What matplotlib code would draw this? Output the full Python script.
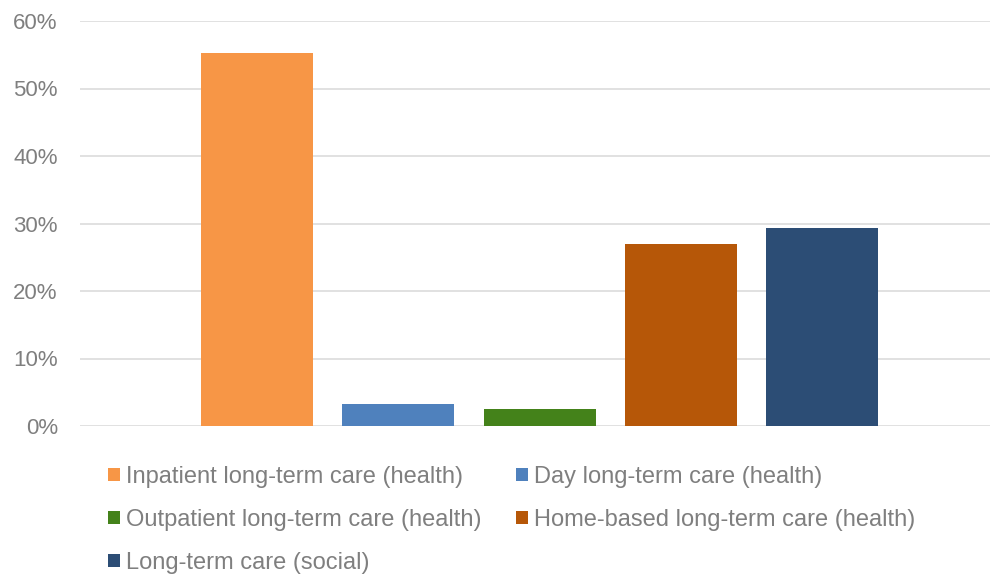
import matplotlib.pyplot as plt
from matplotlib.ticker import FuncFormatter

# Share of long-term care spending by type (%)
series = [
    'Inpatient long-term care (health)',
    'Day long-term care (health)',
    'Outpatient long-term care (health)',
    'Home-based long-term care (health)',
    'Long-term care (social)',
]
values = [55.3, 3.3, 2.5, 27.0, 29.4]
colors = ['#F79646', '#4F81BD', '#44821A', '#B65708', '#2C4D75']

plt.rcParams['font.family'] = ['Liberation Sans', 'DejaVu Sans']

fig = plt.figure(figsize=(9.92, 5.76), dpi=100)
ax = fig.add_axes([80 / 992, 1 - 426 / 576, 910 / 992, 405 / 576])

bars = []
for i, (name, val, col) in enumerate(zip(series, values, colors)):
    bars.append(ax.bar(i, val, width=0.794, color=col, label=name, zorder=2))

ax.set_ylim(0, 60)
ax.set_xlim(-1.255, 5.19)
ax.set_yticks(range(0, 61, 10))
ax.yaxis.set_major_formatter(FuncFormatter(lambda v, p: f'{v:.0f}%'))
ax.set_xticks([])
ax.grid(axis='y', color='#D9D9D9', linewidth=1.1, zorder=0)
for s in ['top', 'right', 'left', 'bottom']:
    ax.spines[s].set_visible(False)
ax.tick_params(axis='y', length=0, pad=16, labelsize=16, labelcolor='#7F7F7F')

# legend reads row by row, matplotlib fills by column
order = [0, 2, 4, 1, 3]
leg = ax.legend([bars[i] for i in order], [series[i] for i in order],
                loc='upper left', bbox_to_anchor=(108 / 992, 1 - 466 / 576),
                bbox_transform=fig.transFigure, ncol=2, frameon=False,
                fontsize=17, handlelength=0.51, handleheight=0.51,
                handletextpad=0.25, columnspacing=1.45, labelspacing=0.89,
                borderaxespad=0, borderpad=0)
for t in leg.get_texts():
    t.set_color('#7F7F7F')

fig.savefig('out.png', dpi=100)
